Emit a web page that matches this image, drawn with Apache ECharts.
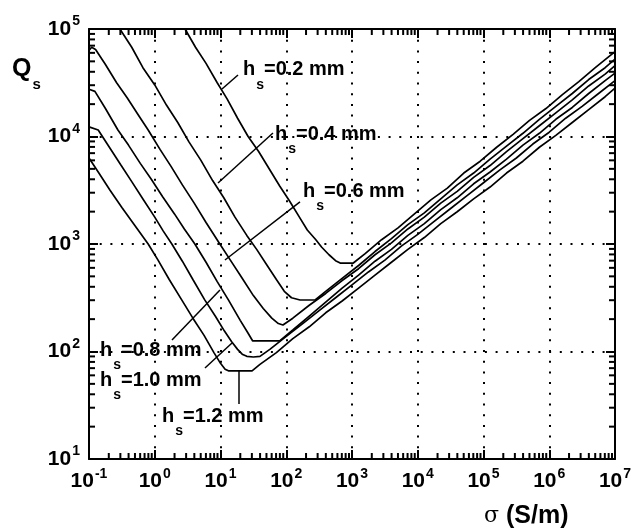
<!DOCTYPE html>
<html>
<head>
<meta charset="utf-8">
<script src="https://cdn.jsdelivr.net/npm/echarts@6/dist/echarts.min.js"></script>
<style>
  html, body { margin: 0; padding: 0; background: #fff; }
  #chart { width: 641px; height: 528px; }
</style>
</head>
<body>
<div id="chart"></div>
<script>
// 曲线数据 (log10 值): 横轴 sigma (S/m), 纵轴 Q_s
const lgSigma02 = [0.46, 0.62, 0.78, 0.95, 1.1, 1.26, 1.42, 1.58, 1.74, 1.9, 2.05, 2.2, 2.32, 2.45, 2.54, 2.65, 2.75, 2.82, 3.02, 3.2, 3.45, 3.7, 3.95, 4.2, 4.45, 4.7, 4.95, 5.2, 5.45, 5.7, 5.95, 6.2, 6.45, 6.7, 7.0]
const lgQ02 = [5.00, 4.83, 4.68, 4.50, 4.35, 4.17, 4.00, 3.86, 3.70, 3.54, 3.40, 3.25, 3.13, 3.04, 2.97, 2.90, 2.845, 2.823, 2.823, 2.91, 3.04, 3.15, 3.28, 3.41, 3.52, 3.66, 3.77, 3.90, 4.02, 4.15, 4.26, 4.39, 4.51, 4.64, 4.79]

const lgSigma04 = [-0.53, -0.35, -0.18, 0.0, 0.18, 0.35, 0.52, 0.7, 0.88, 1.05, 1.22, 1.4, 1.55, 1.7, 1.85, 1.97, 2.08, 2.21, 2.44, 2.6, 2.85, 3.1, 3.35, 3.6, 3.85, 4.1, 4.35, 4.6, 4.85, 5.1, 5.35, 5.6, 5.85, 6.1, 6.35, 6.6, 6.85, 7.0]
const lgQ04 = [5.00, 4.83, 4.64, 4.48, 4.29, 4.13, 3.95, 3.78, 3.59, 3.43, 3.25, 3.08, 2.95, 2.81, 2.67, 2.56, 2.50, 2.479, 2.479, 2.56, 2.68, 2.80, 2.93, 3.05, 3.18, 3.29, 3.42, 3.55, 3.66, 3.79, 3.91, 4.03, 4.16, 4.28, 4.40, 4.53, 4.64, 4.72]

const lgSigma06 = [-1, -0.96, -0.9, -0.75, -0.58, -0.42, -0.25, -0.1, 0.08, 0.25, 0.42, 0.6, 0.78, 0.99, 1.15, 1.32, 1.5, 1.65, 1.78, 1.88, 1.95, 2.1, 2.35, 2.6, 2.85, 3.1, 3.35, 3.6, 3.85, 4.1, 4.35, 4.6, 4.85, 5.1, 5.35, 5.6, 5.85, 6.1, 6.35, 6.6, 6.85, 7.0]
const lgQ06 = [4.80, 4.83, 4.81, 4.67, 4.50, 4.36, 4.20, 4.06, 3.88, 3.72, 3.55, 3.38, 3.20, 3.00, 2.85, 2.69, 2.52, 2.40, 2.31, 2.26, 2.247, 2.31, 2.43, 2.54, 2.66, 2.77, 2.90, 3.01, 3.14, 3.25, 3.38, 3.49, 3.62, 3.73, 3.86, 3.98, 4.10, 4.22, 4.34, 4.47, 4.58, 4.66]

const lgSigma08 = [-1, -0.91, -0.75, -0.56, -0.4, -0.22, -0.05, 0.12, 0.3, 0.45, 0.61, 0.78, 0.95, 1.12, 1.3, 1.42, 1.49, 1.9, 2.1, 2.35, 2.6, 2.85, 3.1, 3.35, 3.6, 3.85, 4.1, 4.35, 4.6, 4.85, 5.1, 5.35, 5.6, 5.85, 6.1, 6.35, 6.6, 6.85, 7.0]
const lgQ08 = [4.44, 4.42, 4.26, 4.06, 3.92, 3.75, 3.60, 3.44, 3.28, 3.14, 3.00, 2.83, 2.65, 2.48, 2.29, 2.17, 2.098, 2.098, 2.20, 2.33, 2.46, 2.59, 2.71, 2.84, 2.95, 3.08, 3.19, 3.32, 3.43, 3.56, 3.67, 3.79, 3.92, 4.03, 4.16, 4.27, 4.40, 4.52, 4.59]

const lgSigma10 = [-1, -0.86, -0.7, -0.52, -0.35, -0.17, 0.0, 0.13, 0.26, 0.42, 0.58, 0.76, 0.92, 1.06, 1.17, 1.26, 1.33, 1.4, 1.5, 1.6, 1.75, 2.0, 2.25, 2.5, 2.75, 3.0, 3.25, 3.5, 3.75, 4.0, 4.25, 4.5, 4.75, 5.0, 5.25, 5.5, 5.75, 6.0, 6.25, 6.5, 6.75, 7.0]
const lgQ10 = [4.09, 4.06, 3.91, 3.74, 3.58, 3.41, 3.25, 3.12, 3.00, 2.84, 2.67, 2.48, 2.33, 2.19, 2.09, 2.02, 1.975, 1.955, 1.949, 1.955, 2.02, 2.14, 2.26, 2.38, 2.50, 2.62, 2.74, 2.85, 2.98, 3.09, 3.21, 3.33, 3.45, 3.57, 3.69, 3.80, 3.93, 4.04, 4.17, 4.28, 4.40, 4.52]

const lgSigma12 = [-1, -0.85, -0.68, -0.5, -0.3, -0.1, 0.05, 0.22, 0.41, 0.58, 0.75, 0.9, 1.0, 1.07, 1.12, 1.48, 1.6, 1.85, 2.1, 2.35, 2.6, 2.85, 3.1, 3.35, 3.6, 3.85, 4.1, 4.35, 4.6, 4.85, 5.1, 5.35, 5.6, 5.85, 6.1, 6.35, 6.6, 6.85, 7.0]
const lgQ12 = [3.80, 3.66, 3.50, 3.34, 3.17, 3.00, 2.85, 2.67, 2.48, 2.31, 2.15, 1.99, 1.89, 1.835, 1.82, 1.82, 1.88, 1.99, 2.12, 2.23, 2.36, 2.47, 2.59, 2.71, 2.83, 2.95, 3.06, 3.19, 3.30, 3.42, 3.53, 3.66, 3.77, 3.90, 4.01, 4.13, 4.25, 4.37, 4.45]

// 标注: h_s 文本 与 引线 (log10 坐标)
const labelHs = ['0.2', '0.4', '0.6', '0.8', '1.0', '1.2']
const labelLgSigma = [1.342, 1.829, 2.255, -0.833, -0.833, 0.110]
const labelLgQ = [4.619, 4.023, 3.493, 2.014, 1.735, 1.400]
const leaderFrom = [[1.023, 4.442], [0.962, 3.567], [1.068, 2.851], [0.262, 2.107], [0.764, 1.847], [1.281, 1.828]]
const leaderTo = [[1.266, 4.572], [1.798, 4.033], [2.209, 3.391], [0.992, 2.572], [1.175, 2.079], [1.281, 1.512]]

// 坐标轴范围
const sigmaMin = 0.1, sigmaMax = 1e7
const qMin = 10, qMax = 1e5

const FONT = 'Liberation Sans'
const pw = v => Math.pow(10, v)
const pairs = (xs, ys) => xs.map((x, i) => [pw(x), pw(ys[i])])

// 对数轴次刻度 2..9
const minorX = []
for (let d = -1; d < 7; d++) for (let k = 2; k <= 9; k++) minorX.push(k * pw(d))
const minorY = []
for (let d = 1; d < 5; d++) for (let k = 2; k <= 9; k++) minorY.push(k * pw(d))

const powRich = {
    b: { fontFamily: FONT, fontWeight: 'bold', fontSize: 21, color: '#000' },
    e: { fontFamily: FONT, fontWeight: 'bold', fontSize: 14, color: '#000', padding: [0, 0, 15, 1] }
}
const powLabel = v => '{b|10}{e|' + Math.round(Math.log10(v)) + '}'

const tickStyle = { color: '#000', width: 2 }
const axisLine = { show: true, onZero: false, lineStyle: { color: '#000', width: 2 } }
const dotted = { show: true, lineStyle: { color: '#000', width: 2, type: [2, 8.7] } }

function curve(name, xs, ys) {
    return {
        type: 'line', name: name, data: pairs(xs, ys),
        showSymbol: false, symbol: 'none', smooth: false,
        lineStyle: { color: '#000', width: 1.7 }, z: 3
    }
}

const titles = [
    {
        type: 'text', left: 12, top: 57, z: 10,
        style: {
            text: '{q|Q}{s|s}',
            rich: {
                q: { fontFamily: FONT, fontWeight: 'bold', fontSize: 25, fill: '#000' },
                s: { fontFamily: FONT, fontWeight: 'bold', fontSize: 15, fill: '#000', padding: [30, 0, 0, 1] }
            }
        }
    },
    {
        type: 'text', left: 484, top: 504, z: 10,
        style: {
            text: '{g|σ}{t| (S/m)}',
            rich: {
                g: { fontFamily: 'DejaVu Serif', fontSize: 22, fill: '#000' },
                t: { fontFamily: FONT, fontWeight: 'bold', fontSize: 25, fill: '#000' }
            }
        }
    }
]

const chart = echarts.init(document.getElementById('chart'))
const curves = [
    curve('h=0.2', lgSigma02, lgQ02),
    curve('h=0.4', lgSigma04, lgQ04),
    curve('h=0.6', lgSigma06, lgQ06),
    curve('h=0.8', lgSigma08, lgQ08),
    curve('h=1.0', lgSigma10, lgQ10),
    curve('h=1.2', lgSigma12, lgQ12)
]
// 引线挂在第一条曲线上
curves[0].markLine = {
    silent: true, symbol: ['none', 'none'], animation: false,
    label: { show: false },
    lineStyle: { color: '#000', width: 1.5, type: 'solid', opacity: 1 },
    emphasis: { disabled: true },
    data: leaderFrom.map((f, i) => [
        { coord: [pw(f[0]), pw(f[1])] },
        { coord: [pw(leaderTo[i][0]), pw(leaderTo[i][1])] }
    ])
}

const option = {
    animation: false,
    backgroundColor: '#fff',
    grid: { left: 89, right: 26, top: 29, bottom: 69 },
    xAxis: [
        {
            type: 'log', logBase: 10, min: sigmaMin, max: sigmaMax, position: 'bottom',
            axisLine: axisLine,
            axisTick: { show: true, inside: true, length: 9, lineStyle: tickStyle },
            splitLine: dotted,
            axisLabel: { margin: 8, formatter: powLabel, rich: powRich }
        },
        {
            type: 'log', logBase: 10, min: sigmaMin, max: sigmaMax, position: 'top',
            axisLine: axisLine,
            axisTick: { show: true, inside: true, length: 9, lineStyle: tickStyle },
            splitLine: { show: false }, axisLabel: { show: false }
        }
    ],
    yAxis: [
        {
            type: 'log', logBase: 10, min: qMin, max: qMax, position: 'left',
            axisLine: axisLine,
            axisTick: { show: true, inside: true, length: 9, lineStyle: tickStyle },
            splitLine: dotted,
            axisLabel: { margin: 9, formatter: powLabel, rich: powRich }
        },
        {
            type: 'log', logBase: 10, min: qMin, max: qMax, position: 'right',
            axisLine: axisLine,
            axisTick: { show: true, inside: true, length: 9, lineStyle: tickStyle },
            splitLine: { show: false }, axisLabel: { show: false }
        }
    ],
    graphic: titles,
    series: curves
}
chart.setOption(option)

// 用坐标系换算: 标注文字 和 次刻度
const toPx = (x, y) => chart.convertToPixel({ gridIndex: 0 }, [x, y])
const extra = []
labelHs.forEach((h, i) => {
    const p = toPx(pw(labelLgSigma[i]), pw(labelLgQ[i]))
    extra.push({
        type: 'text', x: p[0], y: p[1], z: 10,
        style: {
            text: '{h|h}{s|s}{h|=' + h + ' mm}',
            verticalAlign: 'middle', align: 'left',
            rich: {
                h: { fontFamily: FONT, fontWeight: 'bold', fontSize: 20, fill: '#000' },
                s: { fontFamily: FONT, fontWeight: 'bold', fontSize: 14, fill: '#000', padding: [30, 0, 0, 1] }
            }
        }
    })
})
function tick(x1, y1, x2, y2) {
    return { type: 'line', z: 10, shape: { x1: x1, y1: y1, x2: x2, y2: y2 }, style: { stroke: '#000', lineWidth: 2 } }
}
minorX.forEach(v => {
    const b = toPx(v, qMin), t = toPx(v, qMax)
    extra.push(tick(b[0], b[1], b[0], b[1] - 6))
    extra.push(tick(t[0], t[1], t[0], t[1] + 6))
})
minorY.forEach(v => {
    const l = toPx(sigmaMin, v), r = toPx(sigmaMax, v)
    extra.push(tick(l[0], l[1], l[0] + 6, l[1]))
    extra.push(tick(r[0], r[1], r[0] - 6, r[1]))
})
chart.setOption({ graphic: titles.concat(extra) })
</script>
</body>
</html>
